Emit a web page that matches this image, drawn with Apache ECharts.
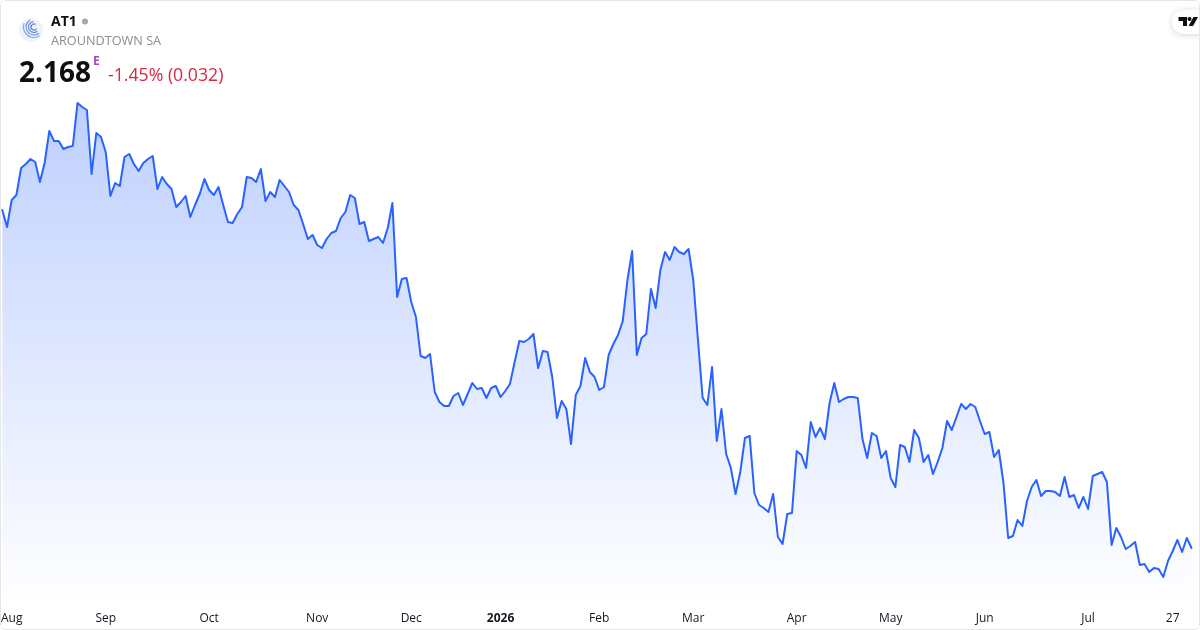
<!DOCTYPE html>
<html><head><meta charset="utf-8">
<style>
html,body{margin:0;padding:0;background:#fff}
#c{position:absolute;left:0;top:0;width:1198px;height:628px;border:1px solid #e6e6e6;border-radius:6px;overflow:hidden;background:#fff}
</style>
<script src="https://cdn.jsdelivr.net/npm/echarts@6/dist/echarts.min.js"></script>
</head><body><div id="c"></div>
<script>
const prices=[3.182,3.131,3.212,3.227,3.308,3.320,3.335,3.326,3.266,3.323,3.419,3.389,3.389,3.365,3.371,3.374,3.503,3.491,3.482,3.290,3.413,3.401,3.356,3.224,3.263,3.254,3.341,3.350,3.320,3.299,3.323,3.335,3.344,3.245,3.281,3.260,3.245,3.191,3.206,3.224,3.161,3.197,3.230,3.275,3.242,3.227,3.251,3.197,3.146,3.143,3.170,3.191,3.281,3.278,3.266,3.305,3.209,3.236,3.221,3.272,3.254,3.236,3.197,3.182,3.140,
3.095,3.107,3.077,3.068,3.095,3.113,3.119,3.158,3.176,3.227,3.218,3.140,3.146,3.089,3.095,3.101,3.083,3.128,3.203,2.921,2.975,2.978,2.906,2.861,2.744,2.738,2.750,2.636,2.606,2.594,2.594,2.624,2.633,2.597,2.630,2.663,2.645,2.648,2.618,2.648,2.654,2.621,2.639,2.660,2.726,2.789,2.786,2.795,2.810,2.708,2.759,2.756,2.681,2.558,2.609,2.585,2.480,2.627,2.654,2.738,2.696,2.681,2.642,
2.651,2.747,2.780,2.807,2.849,2.972,3.059,2.747,2.798,2.810,2.945,2.888,3.002,3.056,3.032,3.071,3.056,3.050,3.065,2.972,2.792,2.618,2.597,2.711,2.489,2.585,2.450,2.408,2.330,2.396,2.498,2.504,2.333,2.297,2.288,2.276,2.330,2.201,2.180,2.270,2.273,2.459,2.447,2.408,2.546,2.501,2.528,2.495,2.603,2.663,2.606,2.615,2.621,2.621,2.618,
2.495,2.438,2.513,2.504,2.438,2.459,2.378,2.351,2.477,2.471,2.426,2.522,2.498,2.426,2.447,2.390,2.426,2.468,2.549,2.522,2.561,2.600,2.585,2.600,2.591,2.549,2.510,2.516,2.441,2.462,2.363,2.198,2.204,2.252,2.234,2.309,2.351,2.372,2.324,2.339,2.339,2.336,2.324,2.381,2.321,2.327,2.288,2.321,2.285,2.384,2.390,2.396,2.366,2.177,2.228,2.201,2.165,2.174,2.186,2.117,2.120,2.096,2.108,2.105,2.081,2.129,2.159,2.192,2.156,2.198,2.168];
const tickLabels=['Aug','Sep','Oct','Nov','Dec','2026','Feb','Mar','Apr','May','Jun','Jul','27'];
const tickIndex=[2,22,44,67,87,106,127,147,169,189,209,231,249];
const symbol='AT1';
const company='AROUNDTOWN SA';
const lastPrice='2.168';
const change='-1.45% (0.032)';

const categories=prices.map((_,i)=>{const k=tickIndex.indexOf(i);return k>=0?tickLabels[k]:'';});
const FONT='"Open Sans","Noto Sans",sans-serif';
const INK='#0f0f0f';
const chart=echarts.init(document.getElementById('c'),null,{renderer:'canvas'});
chart.setOption({
  animation:false,
  backgroundColor:'#fff',
  grid:{left:1.3,right:7.5,top:-1,bottom:24,containLabel:false,outerBoundsMode:'none'},
  xAxis:{type:'category',boundaryGap:false,data:categories,
    axisLine:{show:false},axisTick:{show:false},splitLine:{show:false},
    axisLabel:{interval:(i,v)=>v!=='',hideOverlap:false,margin:8,color:'#131722',fontSize:12,fontFamily:FONT,
      formatter:v=>v==='2026'?'{b|2026}':v,
      rich:{b:{fontWeight:'bold',fontSize:12,color:'#131722',fontFamily:FONT}}}},
  yAxis:{type:'value',min:1.997,max:3.812,show:false},
  series:[{type:'line',data:prices,symbol:'none',smooth:false,
    lineStyle:{color:'#2962FF',width:2,join:'round',cap:'round'},
    areaStyle:{origin:'start',opacity:1,color:new echarts.graphic.LinearGradient(0,0,0,1,[
      {offset:0,color:'rgba(41,98,255,0.30)'},{offset:1,color:'rgba(41,98,255,0)'}])}}],
  graphic:[
    {type:'circle',shape:{cx:30,cy:29,r:12},style:{fill:'#eef2fb'}},
    {type:'arc',shape:{cx:33,cy:26,r:3,startAngle:0.6,endAngle:5.2},style:{stroke:'#4f7fd0',lineWidth:1.2,fill:null}},
    {type:'arc',shape:{cx:33,cy:26,r:5.5,startAngle:0.9,endAngle:4.6},style:{stroke:'#5f8ad6',lineWidth:1.2,fill:null}},
    {type:'arc',shape:{cx:33,cy:26,r:8,startAngle:0.9,endAngle:4.2},style:{stroke:'#6f97da',lineWidth:1.2,fill:null}},
    {type:'arc',shape:{cx:33,cy:26,r:10.5,startAngle:1,endAngle:3.5},style:{stroke:'#86a8e0',lineWidth:1.2,fill:null}},
    {type:'text',x:50,y:14,style:{text:symbol,font:'bold 14px '+FONT,fill:INK}},
    {type:'circle',shape:{cx:84,cy:20.5,r:3},style:{fill:'#a8a8a8'}},
    {type:'text',x:50,y:34,style:{text:company,font:'12.7px '+FONT,fill:'#8c8c8c'}},
    {type:'text',x:18,y:59,style:{text:lastPrice,font:'bold 28px '+FONT,fill:INK}},
    {type:'text',x:92,y:55,style:{text:'E',font:'bold 12px '+FONT,fill:'#ab47bc'}},
    {type:'text',x:107,y:66,style:{text:change,font:'17.7px '+FONT,fill:'#d9273f'}},
    {type:'rect',shape:{x:1171,y:9,width:50,height:24,r:12},style:{fill:'#fff',shadowBlur:7,shadowColor:'rgba(0,0,0,0.16)',shadowOffsetY:1}},
    {type:'polygon',shape:{points:[[1177.5,16],[1186,16],[1186,25],[1182,25],[1182,20],[1177.5,20]]},style:{fill:INK}},
    {type:'circle',shape:{cx:1188.5,cy:18,r:2},style:{fill:INK}},
    {type:'polygon',shape:{points:[[1192.5,16],[1197,16],[1192,25],[1187.5,25]]},style:{fill:INK}}
  ]
});
</script></body></html>
